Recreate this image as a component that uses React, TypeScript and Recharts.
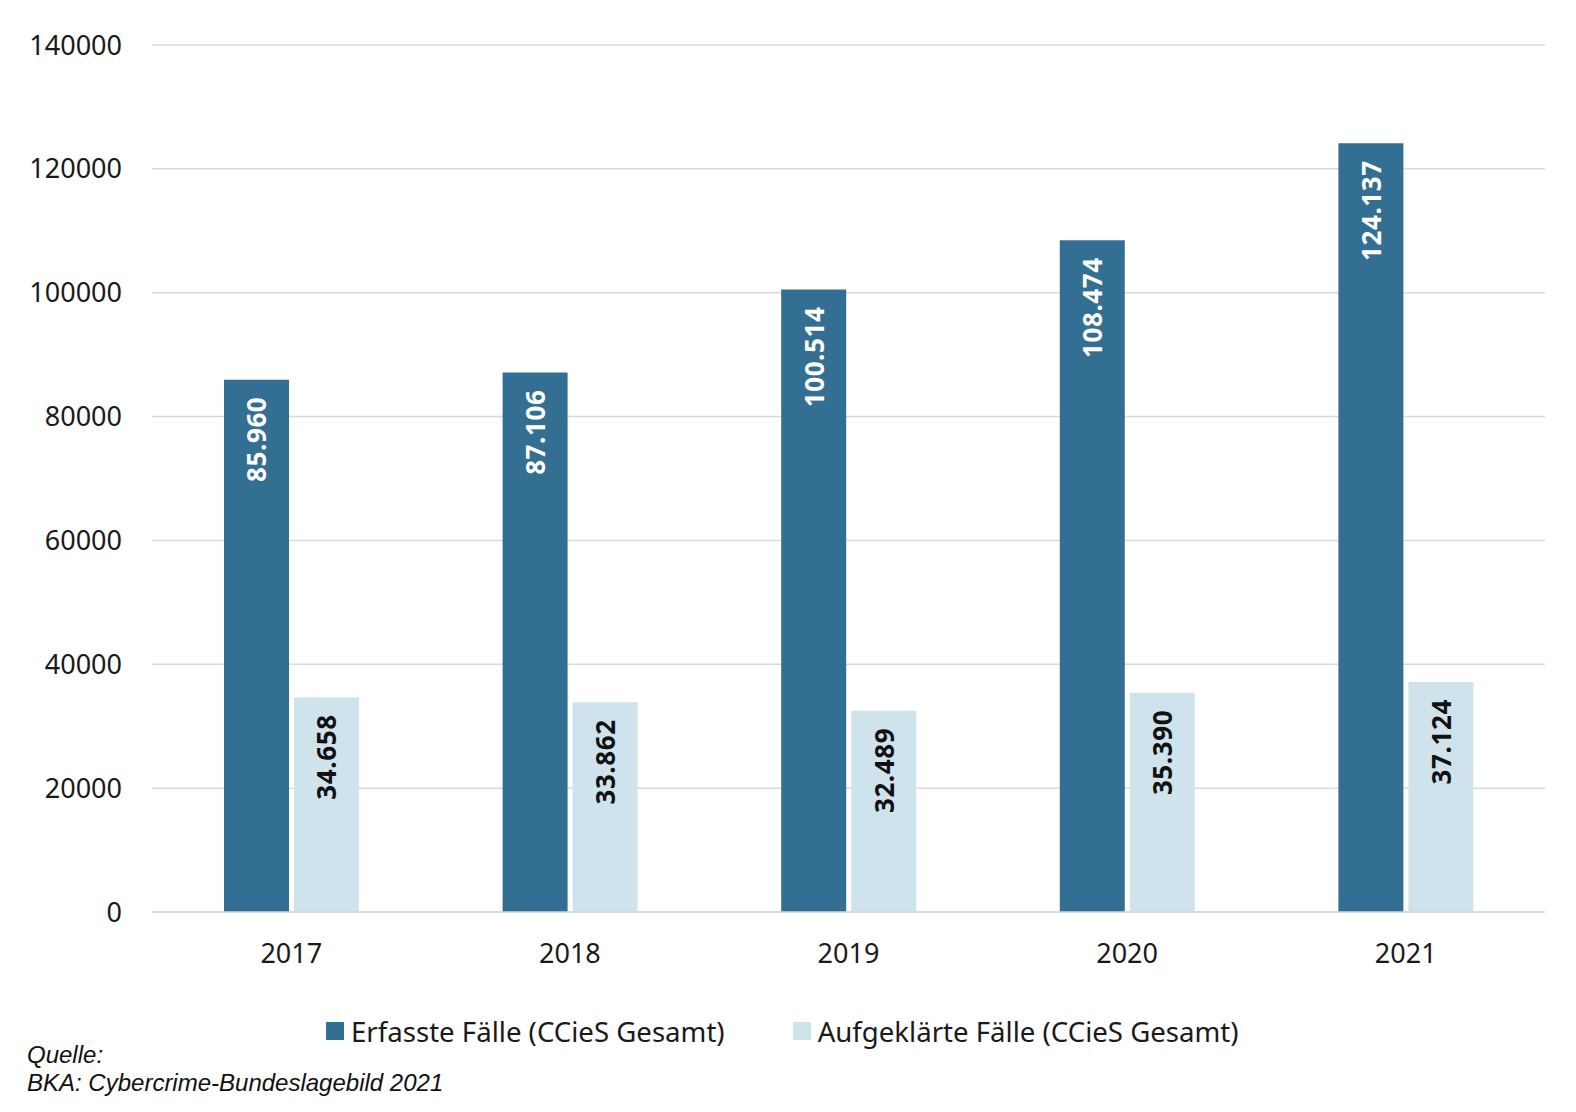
import React from "react";
import { BarChart, Bar, XAxis, YAxis, CartesianGrid, LabelList } from "recharts";

const years = ["2017", "2018", "2019", "2020", "2021"];
const erfasst = [85960, 87106, 100514, 108474, 124137];
const aufgeklaert = [34658, 33862, 32489, 35390, 37124];
const yTicks = [0, 20000, 40000, 60000, 80000, 100000, 120000, 140000];

const DARK = "#336f93";
const LIGHT = "#cfe3ed";
const FONT = "'Noto Sans', 'Open Sans', sans-serif";

const data = years.map((year, i) => ({ year, erfasst: erfasst[i], aufgeklaert: aufgeklaert[i] }));

const formatDE = (v: number) => String(v).replace(/\B(?=(\d{3})+(?!\d))/g, ".");

const makeLabel = (color: string) => (props: any) => {
  const { x, y, width, value } = props;
  const cx = x + width / 2;
  const ty = y + 17;
  return (
    <text
      x={cx}
      y={ty}
      transform={`rotate(-90 ${cx} ${ty})`}
      textAnchor="end"
      dominantBaseline="central"
      fill={color}
      fontSize={26}
      fontWeight={700}
      fontFamily={FONT}
      letterSpacing={0.6}
    >
      {formatDE(value)}
    </text>
  );
};

export default function App() {
  return (
    <div style={{ position: "absolute", top: 0, left: 0, width: 1576, height: 1112, background: "#fff", overflow: "hidden" }}>
      <BarChart
        width={1576}
        height={1112}
        data={data}
        margin={{ top: 45, right: 31, left: 0, bottom: 170 }}
        barCategoryGap={71}
        barGap={5}
      >
        <CartesianGrid vertical={false} stroke="#d9d9d9" strokeWidth={1.5} />
        <XAxis
          dataKey="year"
          axisLine={{ stroke: "#d9d9d9", strokeWidth: 1.5 }}
          tickLine={false}
          tickSize={0}
          tickMargin={32}
          tick={{ fontSize: 27, fill: "#1a1a1a", fontFamily: FONT }}
        />
        <YAxis
          width={152}
          domain={[0, 140000]}
          ticks={yTicks}
          axisLine={false}
          tickLine={false}
          tickSize={0}
          tickMargin={30}
          tick={{ fontSize: 27, fill: "#1a1a1a", fontFamily: FONT }}
        />
        <Bar dataKey="erfasst" fill={DARK} barSize={65} isAnimationActive={false}>
          <LabelList dataKey="erfasst" content={makeLabel("#ffffff")} />
        </Bar>
        <Bar dataKey="aufgeklaert" fill={LIGHT} barSize={65} isAnimationActive={false}>
          <LabelList dataKey="aufgeklaert" content={makeLabel("#111111")} />
        </Bar>
      </BarChart>
      <div
        style={{
          position: "absolute",
          top: 1012,
          left: 326,
          display: "flex",
          alignItems: "center",
          fontFamily: FONT,
          fontSize: 27.6,
          lineHeight: "38px",
          color: "#1a1a1a",
        }}
      >
        <span style={{ width: 18, height: 18, background: DARK, display: "inline-block", marginRight: 7 }} />
        <span style={{ marginRight: 68 }}>Erfasste Fälle (CCieS Gesamt)</span>
        <span style={{ width: 18, height: 18, background: LIGHT, display: "inline-block", marginRight: 7 }} />
        <span>Aufgeklärte Fälle (CCieS Gesamt)</span>
      </div>
      <div
        style={{
          position: "absolute",
          left: 27,
          top: 1041,
          fontFamily: "'Liberation Sans', Arial, sans-serif",
          fontStyle: "italic",
          fontSize: 24,
          lineHeight: "28px",
          color: "#111",
        }}
      >
        Quelle:
        <br />
        BKA: Cybercrime-Bundeslagebild 2021
      </div>
    </div>
  );
}
